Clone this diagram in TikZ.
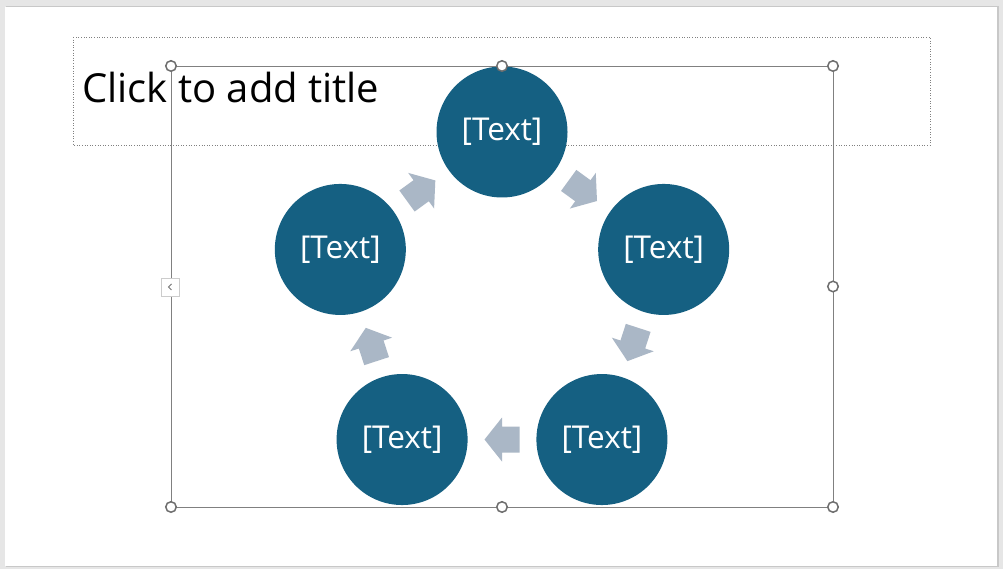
\documentclass[tikz,border=0pt]{standalone}
\usepackage{fontspec}
\setmainfont{Open Sans}
\usetikzlibrary{calc}
\definecolor{bggray}{HTML}{E6E6E6}
\definecolor{shadowgray}{HTML}{C8C8C8}
\definecolor{circblue}{HTML}{156082}
\definecolor{arrgray}{HTML}{AAB7C6}
\definecolor{selgray}{HTML}{808080}
\definecolor{handlegray}{HTML}{6E6E6E}
\tikzset{
  cyclecircle/.style={circle, fill=circblue, draw=none, minimum size=131pt, inner sep=0pt,
    text=white, font=\fontsize{31.5}{31.5}\selectfont},
  handle/.style={circle, draw=handlegray, fill=white, line width=1.5pt, minimum size=10.5pt, inner sep=0pt},
  selline/.style={draw=selgray, line width=0.9pt},
  cyclearrow/.style={fill=arrgray, draw=none},
}
\begin{document}
\begin{tikzpicture}[x=1pt,y=1pt]
\useasboundingbox (0,0) rectangle (1003,569);
\fill[bggray] (0,0) rectangle (1003,569);
\fill[shadowgray] (6,2) rectangle (999,563);
\fill[white] (5,3) rectangle (997,562);
% title placeholder
\draw[selgray, line width=0.6pt, dotted] (73,532) rectangle (930,424);
\node[anchor=base west, inner sep=0pt, font=\fontsize{40}{40}\selectfont] (title) at (82,466) {Click to add title};
% cycle
\coordinate (c) at (502,267);
\node[cyclecircle] (n1) at ($(c)+(90:170)$) {[Text]};
\node[cyclecircle] (n2) at ($(c)+(18:170)$) {[Text]};
\node[cyclecircle] (n3) at ($(c)+(-54:170)$) {[Text]};
\node[cyclecircle] (n4) at ($(c)+(-126:170)$) {[Text]};
\node[cyclecircle] (n5) at ($(c)+(162:170)$) {[Text]};
\foreach \a/\b in {n1/n2,n2/n3,n3/n4,n4/n5,n5/n1}{
  \path let \p1=(\a.center), \p2=(\b.center), \n1={atan2(\y2-\y1,\x2-\x1)} in
    coordinate (m) at ($(\a.center)!0.5!(\b.center)$)
    [cyclearrow, shift={(m)}, rotate=\n1] 
    (-17.5,-13) -- (0,-13) -- (0,-22) -- (17.5,0) -- (0,22) -- (0,13) -- (-17.5,13) -- cycle;
}
% selection frame
\coordinate (s1) at (171,503);
\coordinate (s2) at (833,503);
\coordinate (s3) at (833,62);
\coordinate (s4) at (171,62);
\draw[selline] (s1) -- (s2) -- (s3) -- (s4) -- cycle;
\node[handle] (h1) at (s1) {};
\node[handle] (h2) at ($(s1)!0.5!(s2)$) {};
\node[handle] (h3) at (s2) {};
\node[handle] (h4) at ($(s2)!0.5!(s3)$) {};
\node[handle] (h5) at (s3) {};
\node[handle] (h6) at ($(s3)!0.5!(s4)$) {};
\node[handle] (h7) at (s4) {};
\node[draw=black!20, fill=white, minimum size=18pt, inner sep=0pt, line width=0.6pt] (tab) at (170,282) {};
\draw[black!55, line width=1pt] ($(tab.center)+(1.5,3)$) -- ($(tab.center)+(-1.5,0)$) -- ($(tab.center)+(1.5,-3)$);
\end{tikzpicture}
\end{document}
